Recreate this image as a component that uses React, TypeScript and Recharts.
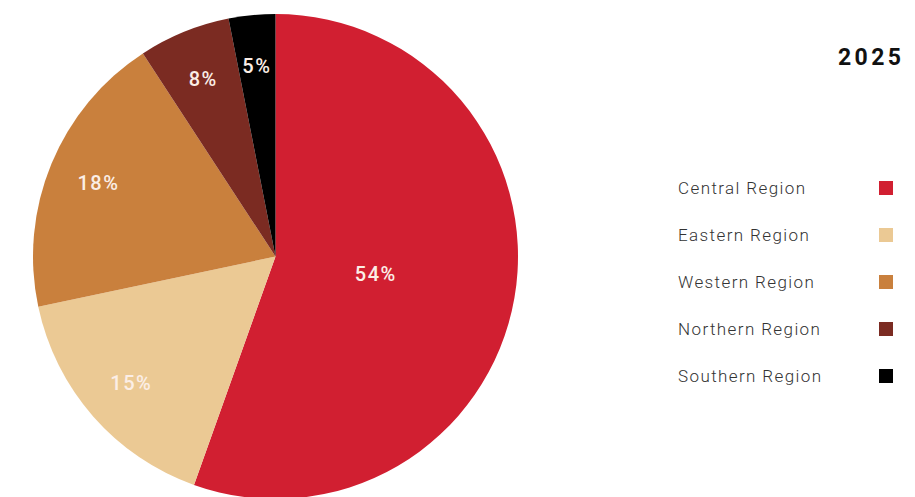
import {PieChart, Pie, Cell, Legend} from 'recharts';

const REGIONS = ['Central Region', 'Eastern Region', 'Western Region', 'Northern Region', 'Southern Region'];
const SHARES = [55.4, 16.2, 19.1, 6.1, 3.1];
const SHARE_LABELS = ['54%', '15%', '18%', '8%', '5%'];
const COLORS = ['#d11f31', '#ebc994', '#c9803d', '#7b2b22', '#000000'];
const YEAR = '2025';

const RADIAN = Math.PI / 180;

const chartData = REGIONS.map((name, i) => ({name, value: SHARES[i], label: SHARE_LABELS[i]}));

const renderLabel = (props: any) => {
    const {cx, cy, midAngle, outerRadius, percent, index} = props;
    const r = percent > 0.5 ? outerRadius * 0.42 : outerRadius * 0.79;
    const x = cx + r * Math.cos(-midAngle * RADIAN);
    const y = cy + r * Math.sin(-midAngle * RADIAN);
    return (
        <text
            x={x}
            y={y}
            fill="#fbeee6"
            textAnchor="middle"
            dominantBaseline="central"
            fontFamily="Roboto, sans-serif"
            fontWeight={500}
            fontSize={20}
            letterSpacing={1.5}
        >
            {SHARE_LABELS[index]}
        </text>
    );
};

const renderLegend = () => (
    <div style={{width: 215}}>
        {REGIONS.map((name, i) => (
            <div
                key={name}
                style={{display: 'flex', justifyContent: 'space-between', alignItems: 'center', height: 47.2}}
            >
                <span style={{fontFamily: 'Roboto, sans-serif', fontWeight: 300, fontSize: 17, color: '#333', letterSpacing: 1.4}}>
                    {name}
                </span>
                <span style={{width: 14, height: 14, background: COLORS[i], display: 'inline-block'}}/>
            </div>
        ))}
    </div>
);

export default function App() {
    return (
        <div style={{position: 'relative', width: 915, height: 497, background: '#fff', overflow: 'hidden'}}>
            <style>{`body{margin:0}`}</style>
            <PieChart width={915} height={497} margin={{top: 0, right: 0, bottom: 0, left: 0}}>
                <Pie
                    data={chartData}
                    dataKey="value"
                    nameKey="name"
                    cx={275.5}
                    cy={256.5}
                    outerRadius={242.5}
                    startAngle={90}
                    endAngle={-270}
                    stroke="none"
                    label={renderLabel}
                    labelLine={false}
                    isAnimationActive={false}
                >
                    {chartData.map((_entry, index) => (
                        <Cell key={`cell-${index}`} fill={COLORS[index]}/>
                    ))}
                </Pie>
                <Legend
                    content={renderLegend}
                    wrapperStyle={{position: 'absolute', left: 678, top: 164, width: 215}}
                />
            </PieChart>
            <div
                style={{
                    position: 'absolute',
                    left: 838,
                    top: 44,
                    fontFamily: 'Roboto, sans-serif',
                    fontWeight: 700,
                    fontSize: 23,
                    letterSpacing: 3.4,
                    color: '#111',
                }}
            >
                {YEAR}
            </div>
        </div>
    );
}
